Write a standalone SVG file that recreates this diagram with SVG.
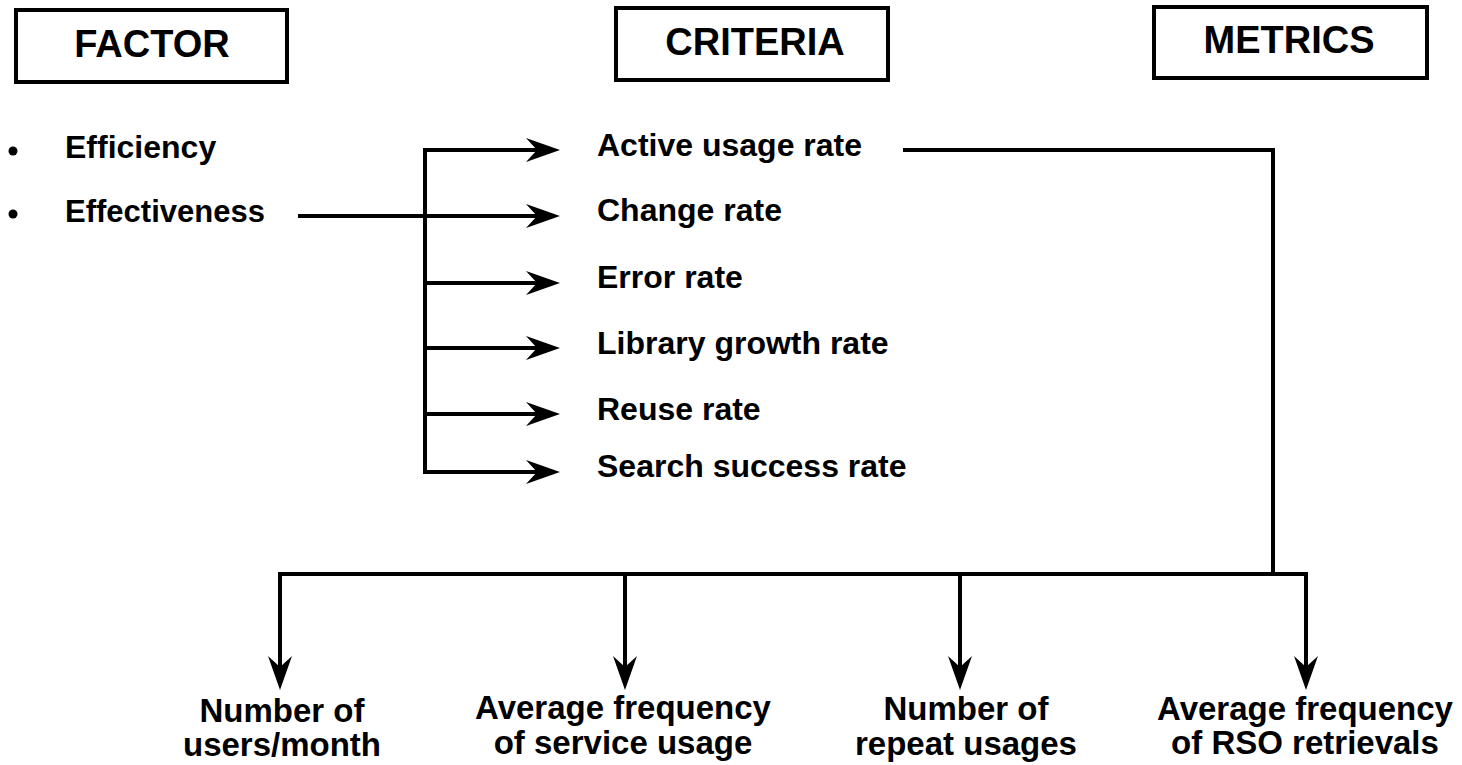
<svg xmlns="http://www.w3.org/2000/svg" width="1462" height="765" viewBox="0 0 1462 765">
<style>
  text { font-family: "Liberation Sans", Arial, Helvetica, sans-serif; font-weight: bold; fill: #000; }
  .hdr { font-size: 38px; text-anchor: middle; }
  .item { font-size: 32px; }
  .met { font-size: 33px; text-anchor: middle; }
  .box { fill: #fff; stroke: #000; stroke-width: 4; }
  .conn { fill: none; stroke: #000; stroke-width: 4; stroke-linejoin: miter; }
</style>
<defs>
  <marker id="arr" viewBox="-36 -14 40 28" refX="-10" refY="0" markerWidth="40" markerHeight="28" markerUnits="userSpaceOnUse" orient="auto">
    <path d="M0,0 L-34,-12 L-23,0 L-34,12 Z" fill="#000"/>
  </marker>
</defs>
<rect width="1462" height="765" fill="#fff"/>

<g id="hdr-factor">
  <rect class="box" x="16" y="10" width="271" height="72"/>
  <text class="hdr" x="152" y="57">FACTOR</text>
</g>
<g id="hdr-criteria">
  <rect class="box" x="616" y="8" width="272" height="72"/>
  <text class="hdr" x="755" y="55">CRITERIA</text>
</g>
<g id="hdr-metrics">
  <rect class="box" x="1154" y="7" width="273" height="71"/>
  <text class="hdr" x="1289" y="53">METRICS</text>
</g>

<g id="factor-efficiency">
  <circle cx="13" cy="151" r="4.5"/>
  <text class="item" x="65" y="158">Efficiency</text>
</g>
<g id="factor-effectiveness">
  <circle cx="13" cy="214" r="4.5"/>
  <text class="item" x="65" y="222" style="font-size:31px">Effectiveness</text>
</g>

<g id="crit-active"><text class="item" x="597" y="156">Active usage rate</text></g>
<g id="crit-change"><text class="item" x="597" y="221">Change rate</text></g>
<g id="crit-error"><text class="item" x="597" y="288">Error rate</text></g>
<g id="crit-library"><text class="item" x="597" y="354">Library growth rate</text></g>
<g id="crit-reuse"><text class="item" x="597" y="420">Reuse rate</text></g>
<g id="crit-search"><text class="item" x="597" y="477">Search success rate</text></g>

<g id="met-users">
  <text class="met" x="282" y="722">Number of</text>
  <text class="met" x="282" y="756">users/month</text>
</g>
<g id="met-avgservice">
  <text class="met" x="623" y="719">Average frequency</text>
  <text class="met" x="623" y="754">of service usage</text>
</g>
<g id="met-repeat">
  <text class="met" x="966" y="720">Number of</text>
  <text class="met" x="966" y="755">repeat usages</text>
</g>
<g id="met-rso">
  <text class="met" x="1305" y="720">Average frequency</text>
  <text class="met" x="1305" y="754">of RSO retrievals</text>
</g>

<g id="connectors">
  <path class="conn" d="M425,472 V150"/>
  <path class="conn" d="M423,150 H550" marker-end="url(#arr)"/>
  <path class="conn" d="M298,216 H550" marker-end="url(#arr)"/>
  <path class="conn" d="M423,283 H550" marker-end="url(#arr)"/>
  <path class="conn" d="M423,348 H550" marker-end="url(#arr)"/>
  <path class="conn" d="M423,414 H550" marker-end="url(#arr)"/>
  <path class="conn" d="M423,472 H550" marker-end="url(#arr)"/>
  <path class="conn" d="M903,150 H1273 V574"/>
  <path class="conn" d="M280,680 V574 H1306 V680" marker-end="url(#arr)"/>
  <path class="conn" d="M280,574 V680" marker-end="url(#arr)"/>
  <path class="conn" d="M625,574 V680" marker-end="url(#arr)"/>
  <path class="conn" d="M960,574 V680" marker-end="url(#arr)"/>
</g>
</svg>
